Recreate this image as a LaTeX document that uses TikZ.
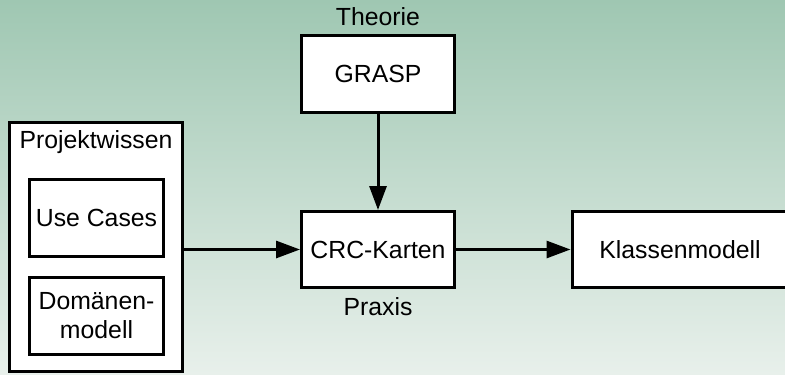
\documentclass[tikz,border=0pt]{standalone}
\usepackage{fontspec}
\setmainfont{Liberation Sans}
\usetikzlibrary{arrows.meta}
\definecolor{bgtop}{HTML}{9FC7B2}
\definecolor{bgbottom}{HTML}{E8F0EB}
\tikzset{every node/.style={font=\fontsize{12.4}{14.5}\selectfont}}

\begin{document}
\begin{tikzpicture}[x=0.5pt,y=-0.5pt,
    box/.style={draw=black,fill=white,line width=1.5pt,align=center,inner sep=0pt},
    lbl/.style={inner sep=0pt},
    arr/.style={draw=black,line width=1.5pt,-{Triangle[length=12pt,width=8.5pt]}}]
  \useasboundingbox (0,0) rectangle (785,374);
  \clip (0,0) rectangle (785,374);

  % background
  \shade[top color=bgtop,bottom color=bgbottom] (0,0) rectangle (785,374);

  % Projektwissen with its two parts
  \node[box,minimum width=86.5pt,minimum height=124.5pt] (pw) at (96,247) {};
  \node[lbl] (pwlbl) at (96,142) {Projektwissen};
  \node[box,minimum width=67pt,minimum height=38.5pt] (uc) at (96.5,218) {Use Cases};
  \node[box,minimum width=67pt,minimum height=38.5pt] (dm) at (96.5,315.5) {Domänen-\\modell};

  % Theorie and Praxis
  \node[box,minimum width=76.5pt,minimum height=38pt] (grasp) at (378,74) {GRASP};
  \node[lbl] (theo) at (378,17) {Theorie};
  \node[box,minimum width=76.5pt,minimum height=38pt] (crc) at (378,249.5) {CRC-Karten};
  \node[lbl] (prax) at (378,307) {Praxis};

  % result, runs off the right edge
  \node[box,minimum width=200pt,minimum height=38pt] (km) at (772,249.5) {};
  \node[lbl] (kmlbl) at (680,249.5) {Klassenmodell};

  \draw[arr] (grasp.south) -- (crc.north);
  \draw[arr] (pw.east |- crc.west) -- (crc.west);
  \draw[arr] (crc.east) -- (km.west);
\end{tikzpicture}
\end{document}
